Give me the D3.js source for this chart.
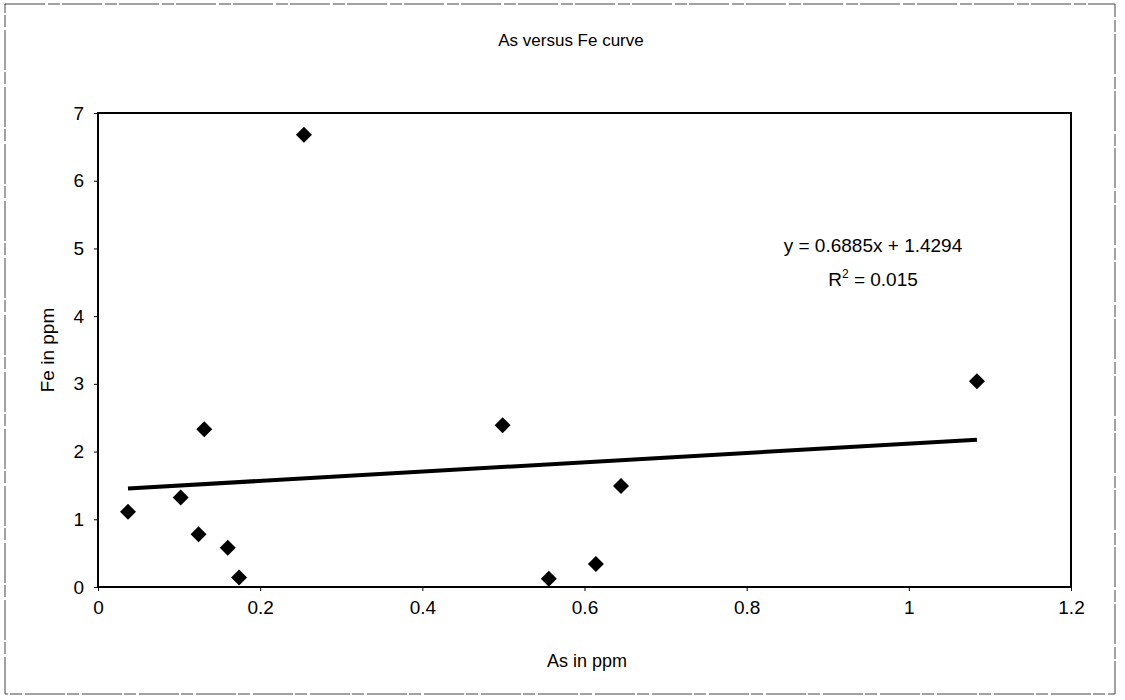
<!DOCTYPE html>
<html>
<head>
<meta charset="utf-8">
<script src="https://cdn.jsdelivr.net/npm/d3@7"></script>
<style>
  body { margin: 0; background: #fff; }
  text { font-family: "Liberation Sans", Arial, sans-serif; fill: #000; }
</style>
</head>
<body>
<div id="chart"></div>
<script>
// As vs Fe readings (ppm)
const asValues = [0.037, 0.102, 0.131, 0.124, 0.160, 0.174, 0.254, 0.499, 0.556, 0.614, 0.645, 1.084];
const feValues = [1.11, 1.32, 2.33, 0.78, 0.58, 0.14, 6.68, 2.39, 0.12, 0.34, 1.49, 3.04];
const xTicks = [0, 0.2, 0.4, 0.6, 0.8, 1, 1.2];
const yTicks = [0, 1, 2, 3, 4, 5, 6, 7];
const slope = 0.6885, intercept = 1.4294;
const eqLines = ["y = 0.6885x + 1.4294", "R2 = 0.015"];

const width = 1125, height = 700;
const margin = {top: 113, right: 54, bottom: 113, left: 98};

const svg = d3.select("#chart")
    .append("svg")
    .attr("width", width)
    .attr("height", height);

// outer chart frame
svg.append("rect")
    .attr("x", 5).attr("y", 4)
    .attr("width", 1110).attr("height", 690)
    .attr("fill", "none")
    .attr("stroke", "#444")
    .attr("stroke-width", 1)
    .attr("stroke-dasharray", "40 3 12 2");

const x = d3.scaleLinear().domain([0, 1.2]).range([margin.left, width - margin.right]);
const y = d3.scaleLinear().domain([0, 7]).range([height - margin.bottom, margin.top]);

// plot border
svg.append("rect")
    .attr("x", x(0)).attr("y", y(7))
    .attr("width", x(1.2) - x(0)).attr("height", y(0) - y(7))
    .attr("fill", "none")
    .attr("stroke", "#000")
    .attr("stroke-width", 2);

const xAxis = svg.append("g")
    .attr("transform", "translate(0," + y(0) + ")")
    .call(d3.axisBottom(x).tickValues(xTicks).tickSize(4).tickPadding(10).tickFormat(d3.format("")));
const yAxis = svg.append("g")
    .attr("transform", "translate(" + x(0) + ",0)")
    .call(d3.axisLeft(y).tickValues(yTicks).tickSize(4).tickPadding(10).tickFormat(d3.format("d")));

[xAxis, yAxis].forEach(function(g) {
    g.select(".domain").remove();
    g.selectAll("line").attr("stroke", "#000");
    g.selectAll("text")
        .style("font-family", "Liberation Sans, Arial, sans-serif")
        .style("font-size", "19px")
        .attr("fill", "#000");
});

// title + axis titles
svg.append("text")
    .attr("x", 571).attr("y", 46)
    .attr("text-anchor", "middle")
    .style("font-size", "17px")
    .text("As versus Fe curve");

svg.append("text")
    .attr("x", 587).attr("y", 667)
    .attr("text-anchor", "middle")
    .style("font-size", "18px")
    .text("As in ppm");

svg.append("text")
    .attr("transform", "translate(54,350) rotate(-90)")
    .attr("text-anchor", "middle")
    .style("font-size", "19px")
    .text("Fe in ppm");

// linear trend line across data range
const xMin = d3.min(asValues), xMax = d3.max(asValues);
svg.append("path")
    .attr("d", d3.line()([[x(xMin), y(slope * xMin + intercept)], [x(xMax), y(slope * xMax + intercept)]]))
    .attr("stroke", "#000")
    .attr("stroke-width", 4)
    .attr("fill", "none");

// points
const pts = asValues.map(function(v, i) { return [v, feValues[i]]; });
svg.selectAll(".pt")
    .data(pts)
    .enter().append("path")
    .attr("class", "pt")
    .attr("d", d3.symbol().type(d3.symbolSquare).size(128))
    .attr("transform", function(d) { return "translate(" + x(d[0]) + "," + y(d[1]) + ") rotate(45)"; })
    .attr("fill", "#000");

// equation label
const eq = svg.append("g").attr("text-anchor", "middle").style("font-size", "19px");
eq.append("text").attr("x", 873).attr("y", 252).text(eqLines[0]);
const r2 = eq.append("text").attr("x", 873).attr("y", 286);
r2.append("tspan").text("R");
r2.append("tspan").attr("dy", -8).style("font-size", "12px").text("2");
r2.append("tspan").attr("dy", 8).text(" = 0.015");
</script>
</body>
</html>
